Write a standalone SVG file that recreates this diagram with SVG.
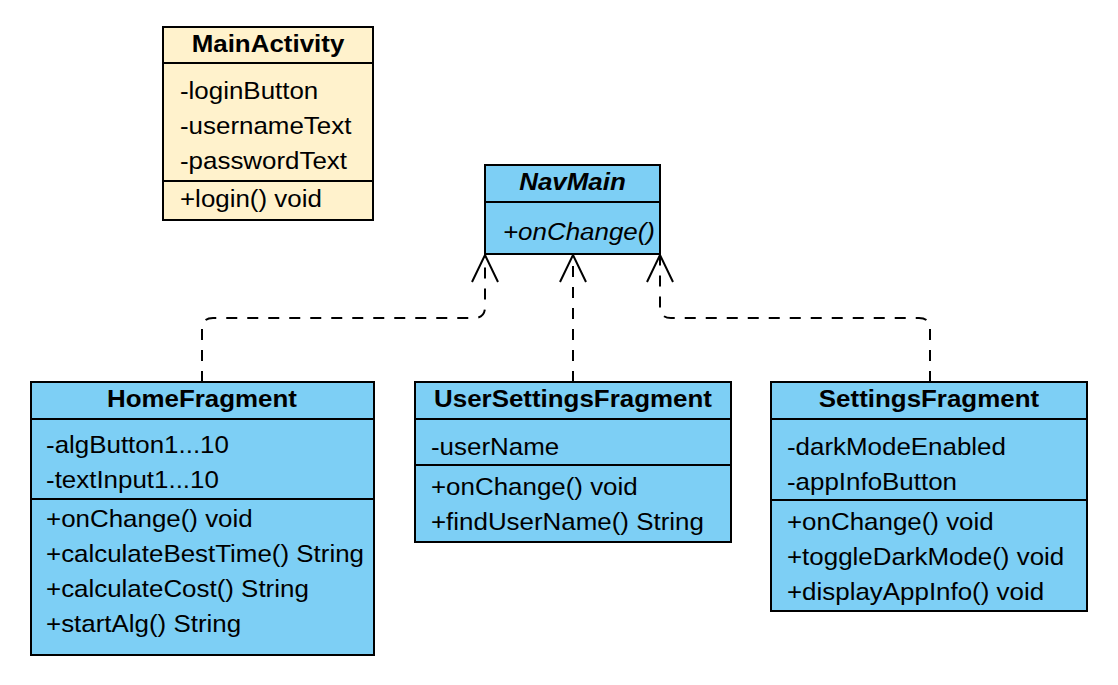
<svg xmlns="http://www.w3.org/2000/svg" width="1118" height="685" viewBox="0 0 1118 685">
<style>
.t{font-family:"Liberation Sans",Arial,Helvetica,sans-serif;font-size:24px;fill:#000;transform-box:fill-box;transform-origin:0% 50%;transform:scaleX(1.08)}
.h{font-weight:bold;text-anchor:middle;transform-origin:50% 50%}
.i{font-style:italic}
.box{stroke:#000;stroke-width:2}
.y{fill:#FFF2CC}
.bl{fill:#7DCFF5}
.div{stroke:#000;stroke-width:2;fill:none}
.con{fill:none;stroke:#000;stroke-width:2;stroke-dasharray:11 10}
.ah{fill:none;stroke:#000;stroke-width:2}
</style>
<rect width="1118" height="685" fill="#fff"/>
<g id="connectors">
<path class="con" d="M202,382 V329 Q202,318 213,318 H474 Q485,318 485,307 V256"/>
<path class="con" d="M573,382 V256"/>
<path class="con" d="M930,382 V329 Q930,318 919,318 H671 Q660,318 660,307 V256"/>
<path class="ah" d="M472,282 L485,255 L498,282"/>
<path class="ah" d="M560,282 L573,255 L586,282"/>
<path class="ah" d="M647,282 L660,255 L673,282"/>
</g>
<g id="MainActivity">
<rect class="box y" x="163" y="27" width="210" height="193"/>
<path class="div" d="M163,63 H373 M163,181 H373"/>
<text class="t h" x="268" y="52">MainActivity</text>
<text class="t" x="180" y="99">-loginButton</text>
<text class="t" x="180" y="134">-usernameText</text>
<text class="t" x="180" y="169">-passwordText</text>
<text class="t" x="180" y="207">+login() void</text>
</g>
<g id="NavMain">
<rect class="box bl" x="485" y="165" width="175" height="89"/>
<path class="div" d="M485,202 H660"/>
<text class="t h i" x="572.5" y="190">NavMain</text>
<text class="t i" x="503" y="240">+onChange()</text>
</g>
<g id="HomeFragment">
<rect class="box bl" x="31" y="382" width="343" height="273"/>
<path class="div" d="M31,419 H374 M31,499 H374"/>
<text class="t h" x="202" y="407">HomeFragment</text>
<text class="t" x="46" y="453">-algButton1...10</text>
<text class="t" x="46" y="488">-textInput1...10</text>
<text class="t" x="46" y="527">+onChange() void</text>
<text class="t" x="46" y="562">+calculateBestTime() String</text>
<text class="t" x="46" y="597">+calculateCost() String</text>
<text class="t" x="46" y="632">+startAlg() String</text>
</g>
<g id="UserSettingsFragment">
<rect class="box bl" x="415" y="382" width="316" height="160"/>
<path class="div" d="M415,419 H731 M415,465 H731"/>
<text class="t h" x="573" y="407">UserSettingsFragment</text>
<text class="t" x="431" y="455">-userName</text>
<text class="t" x="431" y="495">+onChange() void</text>
<text class="t" x="431" y="530">+findUserName() String</text>
</g>
<g id="SettingsFragment">
<rect class="box bl" x="771" y="382" width="316" height="229"/>
<path class="div" d="M771,419 H1087 M771,500 H1087"/>
<text class="t h" x="929" y="407">SettingsFragment</text>
<text class="t" x="787" y="455">-darkModeEnabled</text>
<text class="t" x="787" y="490">-appInfoButton</text>
<text class="t" x="787" y="530">+onChange() void</text>
<text class="t" x="787" y="565">+toggleDarkMode() void</text>
<text class="t" x="787" y="600">+displayAppInfo() void</text>
</g>
</svg>
